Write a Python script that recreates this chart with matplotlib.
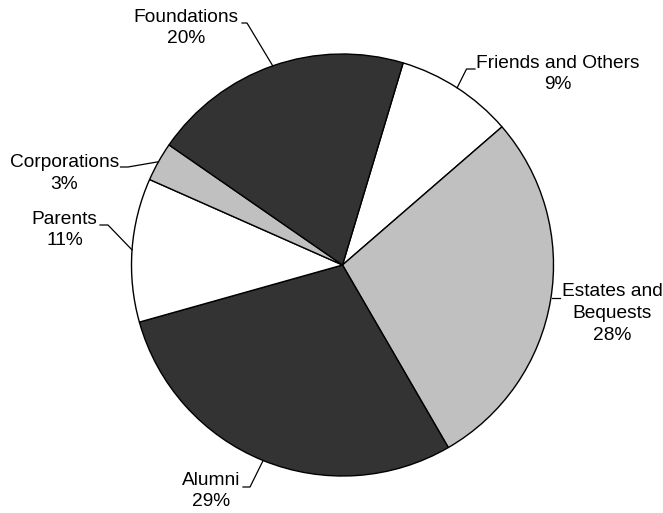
import numpy as np
import matplotlib
matplotlib.use("Agg")
import matplotlib.pyplot as plt

# Data
categories = ["Friends and Others", "Estates and\nBequests", "Alumni", "Parents", "Corporations", "Foundations"]
values = [9, 28, 29, 11, 3, 20]
colors = ["#FFFFFF", "#C0C0C0", "#333333", "#FFFFFF", "#C0C0C0", "#333333"]

W, H = 663, 513
fig = plt.figure(figsize=(W / 100, H / 100), dpi=100)
ax = fig.add_axes([0, 0, 1, 1])
plt.rcParams['font.family'] = ['Liberation Sans', 'DejaVu Sans']

cx, cy, R = 342.5, H - 265.0, 211.0
wedges, _ = ax.pie(values, colors=colors, startangle=73.3, counterclock=False,
                   center=(cx, cy), radius=R,
                   wedgeprops=dict(edgecolor="black", linewidth=1.0))
ax.set_xlim(0, W)
ax.set_ylim(0, H)
ax.set_aspect('equal')
ax.axis('off')

# layout (pixel coords, y down): text center, leader kink, leader end near text
layout = [
    dict(text=(558, 74), kink=(466.5, 69), end=(475, 69)),     # Friends
    dict(text=(612, 313.5), kink=(560, 298), end=(551.5, 298)),  # Estates
    dict(text=(211, 491), kink=(250, 487), end=(243, 487)),    # Alumni
    dict(text=(64.5, 230), kink=(108, 225), end=(100, 225)),   # Parents
    dict(text=(64.5, 173.5), kink=(128, 167), end=(120.5, 167)),  # Corporations
    dict(text=(186, 28), kink=(247, 23), end=(242, 23)),       # Foundations
]

def px(p):
    return p[0], H - p[1]

for w, cat, v, lay in zip(wedges, categories, values, layout):
    mid = np.deg2rad((w.theta1 + w.theta2) / 2)
    ex, ey = cx + R * np.cos(mid), cy + R * np.sin(mid)
    kx, ky = px(lay["kink"])
    tx, ty = px(lay["end"])
    if cat.startswith("Estates"):
        ax.plot([lay["end"][0], kx], [ky, ky], color="black", lw=0.9)
    else:
        ax.plot([ex, kx, tx], [ey, ky, ty], color="black", lw=0.9)
    x, y = px(lay["text"])
    ax.text(x, y, f"{cat}\n{v}%", ha="center", va="center", fontsize=13.8,
            linespacing=1.35, color="black")

fig.savefig("out.png", dpi=100, facecolor="white")
